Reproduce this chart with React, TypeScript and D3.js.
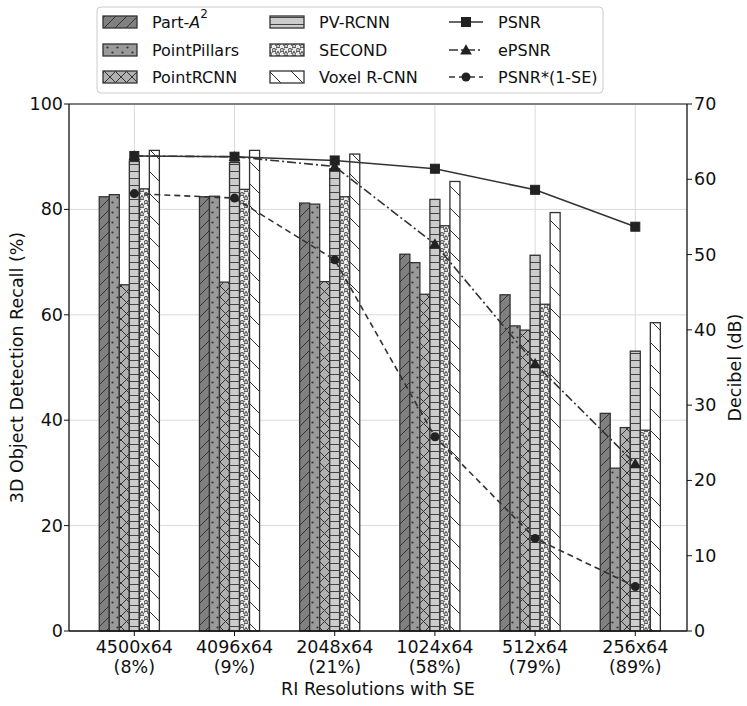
import React from "react";
import * as d3 from "d3";

const W = 747;
const H = 706;
const PLOT = { left: 69, right: 687, top: 104, bottom: 631 };
const BAR_W = 0.1;
const FONT = "DejaVu Sans, sans-serif";

const resolutions = ["4500x64", "4096x64", "2048x64", "1024x64", "512x64", "256x64"];
const seRatios = ["(8%)", "(9%)", "(21%)", "(58%)", "(79%)", "(89%)"];

// recall (%) per detector
const partA2 = [82.4, 82.4, 81.2, 71.5, 63.8, 41.3];
const pointPillars = [82.8, 82.5, 81.0, 69.9, 57.9, 30.9];
const pointRCNN = [65.7, 66.2, 66.3, 63.9, 57.1, 38.6];
const pvRCNN = [89.1, 88.9, 87.7, 81.9, 71.3, 53.1];
const second = [83.9, 83.8, 82.4, 76.9, 62.0, 38.1];
const voxelRCNN = [91.2, 91.2, 90.5, 85.3, 79.4, 58.5];

// decibel series
const psnr = [63.1, 63.0, 62.5, 61.4, 58.6, 53.7];
const ePsnr = [63.1, 63.0, 61.7, 51.4, 35.5, 22.2];
const psnrSE = [58.1, 57.5, 49.3, 25.8, 12.3, 5.9];

const leftTicks = [0, 20, 40, 60, 80, 100];
const rightTicks = [0, 10, 20, 30, 40, 50, 60, 70];

const detectors = [
  { name: "Part-A2", values: partA2, pattern: "hA" },
  { name: "PointPillars", values: pointPillars, pattern: "hP" },
  { name: "PointRCNN", values: pointRCNN, pattern: "hR" },
  { name: "PV-RCNN", values: pvRCNN, pattern: "hV" },
  { name: "SECOND", values: second, pattern: "hS" },
  { name: "Voxel R-CNN", values: voxelRCNN, pattern: "hX" },
];

const lines = [
  { name: "PSNR", values: psnr, dash: "none", marker: "square" },
  { name: "ePSNR", values: ePsnr, dash: "9,3,2,3", marker: "triangle" },
  { name: "PSNR*(1-SE)", values: psnrSE, dash: "6,4", marker: "circle" },
];

const LINE_COLOR = "#333";
const EDGE = "#333";

const Marker = ({ type, x, y }: { type: string; x: number; y: number }) => {
  if (type === "square") {
    return <rect x={x - 4.5} y={y - 4.5} width={9} height={9} fill="#222" stroke="#222" />;
  }
  if (type === "triangle") {
    const p = d3.symbol(d3.symbolTriangle, 60)();
    return <path d={p || ""} transform={`translate(${x},${y + 1})`} fill="#222" />;
  }
  return <circle cx={x} cy={y} r={4.5} fill="#222" />;
};

const Patterns = () => {
  const star = d3.symbol(d3.symbolStar, 9)() || "";
  return (
    <defs>
      <pattern id="hA" patternUnits="userSpaceOnUse" width={11} height={11}>
        <rect width={11} height={11} fill="#808080" />
        <path d="M0,11 L11,0 M-2,2 L2,-2 M9,13 L13,9" stroke="#333" strokeWidth={1} />
      </pattern>
      <pattern id="hP" patternUnits="userSpaceOnUse" width={10} height={10}>
        <rect width={10} height={10} fill="#9a9a9a" />
        <circle cx={2.5} cy={2.5} r={1.1} fill="#333" />
        <circle cx={7.5} cy={7.5} r={1.1} fill="#333" />
      </pattern>
      <pattern id="hR" patternUnits="userSpaceOnUse" width={11} height={11}>
        <rect width={11} height={11} fill="#b0b0b0" />
        <path d="M0,0 L11,11 M11,0 L0,11" stroke="#333" strokeWidth={1} />
      </pattern>
      <pattern id="hV" patternUnits="userSpaceOnUse" width={7} height={7}>
        <rect width={7} height={7} fill="#cccccc" />
        <path d="M0,3.5 L7,3.5" stroke="#444" strokeWidth={1} />
      </pattern>
      <pattern id="hS" patternUnits="userSpaceOnUse" width={8} height={8}>
        <rect width={8} height={8} fill="#eeeeee" />
        <path d={star} transform="translate(2,2)" fill="none" stroke="#333" strokeWidth={0.8} />
        <path d={star} transform="translate(6,6)" fill="none" stroke="#333" strokeWidth={0.8} />
      </pattern>
      <pattern id="hX" patternUnits="userSpaceOnUse" width={22} height={22}>
        <rect width={22} height={22} fill="#ffffff" />
        <path d="M0,0 L22,22 M-3,19 L3,25 M19,-3 L25,3" stroke="#333" strokeWidth={1} />
      </pattern>
    </defs>
  );
};

export default function App() {
  const x = d3.scaleLinear().domain([-0.652, 5.516]).range([PLOT.left, PLOT.right]);
  const yL = d3.scaleLinear().domain([0, 100]).range([PLOT.bottom, PLOT.top]);
  const yR = d3.scaleLinear().domain([0, 70]).range([PLOT.bottom, PLOT.top]);
  const bw = x(BAR_W) - x(0);

  const grid = (
    <g stroke="#d9d9d9" strokeWidth={1}>
      {resolutions.map((_, i) => (
        <line key={`gx${i}`} x1={x(i)} x2={x(i)} y1={PLOT.top} y2={PLOT.bottom} />
      ))}
      {leftTicks.map((t) => (
        <line key={`gy${t}`} x1={PLOT.left} x2={PLOT.right} y1={yL(t)} y2={yL(t)} />
      ))}
    </g>
  );

  const bars = detectors.map((det, k) => (
    <g key={det.name}>
      {det.values.map((v, i) => (
        <rect
          key={i}
          x={x(i + (k - 3) * BAR_W) - bw / 2}
          y={yL(v)}
          width={bw}
          height={yL(0) - yL(v)}
          fill={`url(#${det.pattern})`}
          stroke={EDGE}
          strokeWidth={1.3}
        />
      ))}
    </g>
  ));

  const lineGen = d3
    .line<number>()
    .x((_, i) => x(i))
    .y((d) => yR(d));

  const series = lines.map((s) => (
    <g key={s.name}>
      <path d={lineGen(s.values) || ""} fill="none" stroke={LINE_COLOR} strokeWidth={1.6} strokeDasharray={s.dash} />
      {s.values.map((v, i) => (
        <Marker key={i} type={s.marker} x={x(i)} y={yR(v)} />
      ))}
    </g>
  ));

  // legend layout
  const legendRows = [22, 50, 77];
  const legendCols = [103, 270, 449];
  const legendEntries = [
    ...detectors.map((d) => ({ kind: "patch", d })),
    ...lines.map((l) => ({ kind: "line", l })),
  ];

  const legend = (
    <g fontFamily={FONT} fontSize={16}>
      <rect x={97} y={7} width={506} height={86} rx={4} fill="#fff" stroke="#cccccc" />
      {legendEntries.map((e: any, idx) => {
        const col = Math.floor(idx / 3);
        const row = idx % 3;
        const hx = legendCols[col];
        const hy = legendRows[row];
        const tx = hx + 49;
        if (e.kind === "patch") {
          return (
            <g key={idx}>
              <rect x={hx} y={hy - 6} width={34} height={12} fill={`url(#${e.d.pattern})`} stroke={EDGE} strokeWidth={1.3} />
              <text x={tx} y={hy} dominantBaseline="central" fill="#111">
                {e.d.name === "Part-A2" ? (
                  <>
                    Part-<tspan fontStyle="italic">A</tspan>
                    <tspan dy={-8} fontSize={12}>2</tspan>
                  </>
                ) : (
                  e.d.name
                )}
              </text>
            </g>
          );
        }
        return (
          <g key={idx}>
            <line x1={hx} x2={hx + 34} y1={hy} y2={hy} stroke={LINE_COLOR} strokeWidth={1.6} strokeDasharray={e.l.dash} />
            <Marker type={e.l.marker} x={hx + 17} y={hy} />
            <text x={tx} y={hy} dominantBaseline="central" fill="#111">
              {e.l.name}
            </text>
          </g>
        );
      })}
    </g>
  );

  const axes = (
    <g fontFamily={FONT} fontSize={17.5} fill="#111">
      {/* spines */}
      <line x1={PLOT.left} x2={PLOT.right} y1={PLOT.top} y2={PLOT.top} stroke="#808080" strokeWidth={2} />
      <line x1={PLOT.left} x2={PLOT.left} y1={PLOT.top} y2={PLOT.bottom} stroke="#111" strokeWidth={1.3} />
      <line x1={PLOT.right} x2={PLOT.right} y1={PLOT.top} y2={PLOT.bottom} stroke="#111" strokeWidth={1.3} />
      <line x1={PLOT.left} x2={PLOT.right} y1={PLOT.bottom} y2={PLOT.bottom} stroke="#111" strokeWidth={1.3} />

      {resolutions.map((r, i) => (
        <g key={r}>
          <line x1={x(i)} x2={x(i)} y1={PLOT.bottom} y2={PLOT.bottom + 5} stroke="#111" />
          <text x={x(i)} y={PLOT.bottom + 22} textAnchor="middle">
            {r}
          </text>
          <text x={x(i)} y={PLOT.bottom + 42} textAnchor="middle">
            {seRatios[i]}
          </text>
        </g>
      ))}
      {leftTicks.map((t) => (
        <g key={`l${t}`}>
          <line x1={PLOT.left - 5} x2={PLOT.left} y1={yL(t)} y2={yL(t)} stroke="#111" />
          <text x={PLOT.left - 6} y={yL(t)} textAnchor="end" dominantBaseline="central">
            {t}
          </text>
        </g>
      ))}
      {rightTicks.map((t) => (
        <g key={`r${t}`}>
          <line x1={PLOT.right} x2={PLOT.right + 5} y1={yR(t)} y2={yR(t)} stroke="#111" />
          <text x={PLOT.right + 7} y={yR(t)} dominantBaseline="central">
            {t}
          </text>
        </g>
      ))}
      <text x={(PLOT.left + PLOT.right) / 2} y={PLOT.bottom + 64} textAnchor="middle">
        RI Resolutions with SE
      </text>
      <text
        transform={`translate(17,${(PLOT.top + PLOT.bottom) / 2}) rotate(-90)`}
        textAnchor="middle"
        dominantBaseline="central"
      >
        3D Object Detection Recall (%)
      </text>
      <text
        transform={`translate(735,${(PLOT.top + PLOT.bottom) / 2}) rotate(-90)`}
        textAnchor="middle"
        dominantBaseline="central"
      >
        Decibel (dB)
      </text>
    </g>
  );

  return (
    <div style={{ position: "absolute", left: 0, top: 0 }}>
      <svg width={W} height={H} style={{ display: "block", background: "#fff" }}>
        <Patterns />
        {grid}
        {bars}
        {series}
        {axes}
        {legend}
      </svg>
    </div>
  );
}
